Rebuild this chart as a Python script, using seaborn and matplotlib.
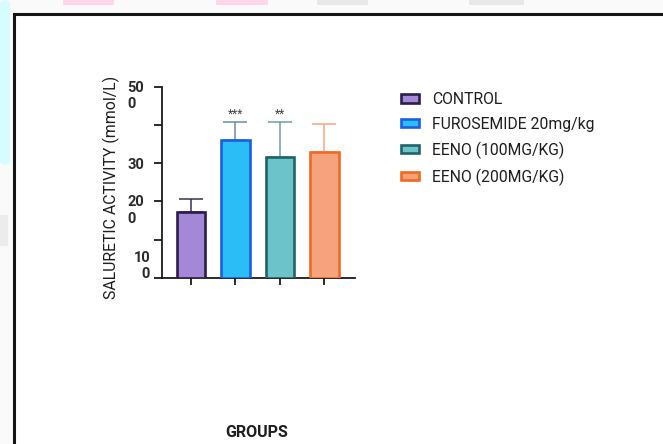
import matplotlib
matplotlib.use("Agg")
import matplotlib.pyplot as plt
from matplotlib.patches import Rectangle, FancyBboxPatch
from matplotlib.transforms import ScaledTranslation
import pandas as pd
import seaborn as sns

# Saluretic activity per treatment group (mean and upper error)
groups = ["CONTROL", "FUROSEMIDE 20mg/kg", "EENO (100MG/KG)", "EENO (200MG/KG)"]
means = [172, 360, 317, 330]
errors = [33, 48, 91, 72]
stars = ["", "***", "**", ""]
ytick_values = [0, 100, 200, 300, 400, 500]
ytick_labels = ["10\n0", "", "20\n0", "30", "", "50\n0"]

fill_colors = ["#a587d8", "#2bbdf6", "#6cc4c8", "#f6a27c"]
edge_colors = ["#2b1d4e", "#1b5fe3", "#1f6469", "#f06a22"]
err_colors = ["#3b2e58", "#6b8cab", "#6e9ea4", "#f3a684"]

sns.set_theme(style="white")
plt.rcParams["font.family"] = ["Roboto", "DejaVu Sans"]

W, H = 663, 444
fig = plt.figure(figsize=(W / 100, H / 100), dpi=100)
fig.patch.set_facecolor("#fafafa")


def px_rect(x0, y0, x1, y1, **kw):
    """Rectangle given in pixel coordinates measured from the top-left corner."""
    return Rectangle((x0 / W, 1 - y1 / H), (x1 - x0) / W, (y1 - y0) / H,
                     transform=fig.transFigure, zorder=-10, **kw)


# page decorations around the framed panel (kept behind the axes)
fig.patches.append(FancyBboxPatch((0, 1 - 165 / H), 10 / W, 165 / H,
                                  boxstyle="round,pad=0,rounding_size=0.01",
                                  transform=fig.transFigure, zorder=-10,
                                  facecolor="#d5fcff", edgecolor="none"))
fig.patches.append(px_rect(0, 215, 8, 246, facecolor="#ececec", edgecolor="none"))
for (a, b), c in zip([(63, 114), (216, 268), (317, 368), (469, 524)],
                     ["#ffd6ea", "#ffd6ea", "#e8e8e8", "#e8e8e8"]):
    fig.patches.append(px_rect(a, 0, b, 5, facecolor=c, edgecolor="none"))
fig.patches.append(px_rect(13.5, 13.5, W + 20, H + 20, facecolor="white",
                           edgecolor="#151515", linewidth=2.2))

ax = fig.add_axes([161.5 / W, 1 - 278 / H, (355 - 161.5) / W, (278 - 86.5) / H])
ax.set_facecolor("none")

df = pd.DataFrame({"group": groups, "value": means})
sns.barplot(data=df, x="group", y="value", hue="group", palette=fill_colors,
            saturation=1, width=0.64, linewidth=1.9, legend=False, ax=ax, zorder=3)

bars = list(ax.patches)
for bar, ec in zip(bars, edge_colors):
    bar.set_edgecolor(ec)

for i, (m, e) in enumerate(zip(means, errors)):
    ax.errorbar(i, m, yerr=[[0], [e]], fmt="none", ecolor=err_colors[i],
                elinewidth=1.1, capsize=8.5, capthick=1.1, zorder=2)
    if stars[i]:
        ax.text(i, m + e + 2, stars[i], ha="center", va="bottom",
                fontsize=8.5, color="#444444")

ax.set_xlim(-0.664, 3.69)
ax.set_ylim(0, 500)
sns.despine(ax=ax)
for side in ("left", "bottom"):
    ax.spines[side].set_linewidth(1.3)
    ax.spines[side].set_color("#1a1a1a")

ax.set_xticks(range(len(groups)), [""] * len(groups))
ax.tick_params(axis="x", length=5, width=1.3, color="#1a1a1a", direction="out", bottom=True)
ax.set_yticks(ytick_values, ytick_labels)
ax.tick_params(axis="y", length=6, width=1.3, color="#1a1a1a", direction="out",
               left=True, pad=6.5, labelsize=10.5, labelcolor="#2a2a2a")

for lab, v in zip(ax.get_yticklabels(), ytick_values):
    lab.set_fontweight("semibold")
    if v == 0:
        lab.set_va("bottom")
        lab.set_multialignment("right")
        lab.set_transform(lab.get_transform() + ScaledTranslation(6 / 100, -3 / 100, fig.dpi_scale_trans))
    elif "\n" in lab.get_text():
        lab.set_va("top")
        lab.set_multialignment("left")
        lab.set_transform(lab.get_transform() + ScaledTranslation(0, 6 / 100, fig.dpi_scale_trans))

ax.set_ylabel("SALURETIC ACTIVITY (mmol/L)", fontsize=11.4, color="#1e1e1e")
ax.yaxis.set_label_coords(-0.215, 0.475)
ax.set_xlabel("GROUPS", fontsize=11.5, fontweight="semibold", color="#1e1e1e")
ax.xaxis.set_label_coords(0.49, -0.768)

ax.legend(handles=bars, labels=groups, loc="upper left",
          bbox_to_anchor=(395 / W, 1 - 86 / H), bbox_transform=fig.transFigure,
          borderaxespad=0, frameon=False, fontsize=11.3, handlelength=1.1,
          handleheight=0.45, handletextpad=0.85, labelspacing=0.61,
          labelcolor="#1e1e1e")

fig.savefig("out.png", dpi=100, facecolor=fig.get_facecolor())
